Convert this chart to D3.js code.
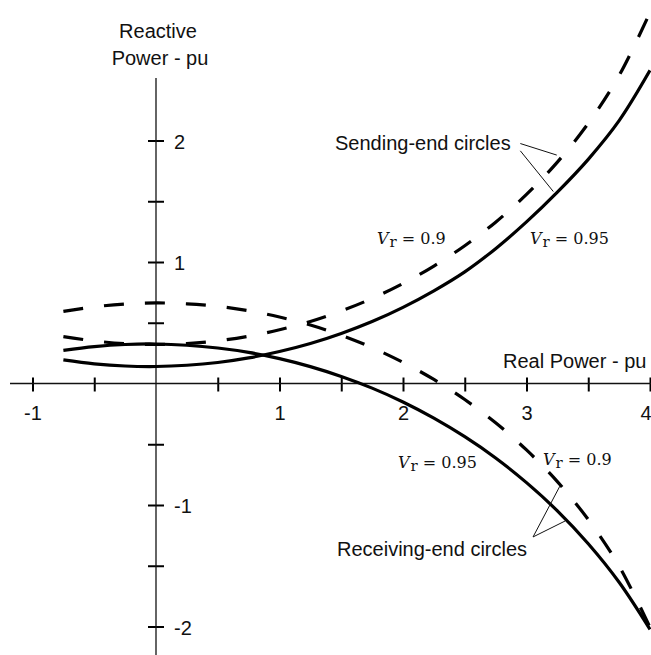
<!DOCTYPE html>
<html>
<head>
<meta charset="utf-8">
<script src="https://cdn.jsdelivr.net/npm/d3@7"></script>
<style>
  html, body { margin: 0; padding: 0; background: #fff; }
  svg { display: block; }
  text { font-family: "Liberation Sans", Arial, Helvetica, sans-serif; fill: #111; }
  .vr { font-family: "DejaVu Serif", "Liberation Serif", serif; font-size: 16px; }
</style>
</head>
<body>
<div id="chart"></div>
<script>
// real power (pu) at which each curve was read
var realPower = [-0.75, -0.5, -0.25, 0, 0.25, 0.5, 0.75, 1, 1.25, 1.5, 1.75,
    2, 2.25, 2.5, 2.75, 3, 3.25, 3.5, 3.75, 4];

// reactive power (pu)
var sendingVr095 = [0.194, 0.162, 0.144, 0.140, 0.150, 0.173, 0.211, 0.263, 0.329, 0.412,
    0.510, 0.627, 0.763, 0.919, 1.11, 1.33, 1.575, 1.845, 2.163, 2.577];
var sendingVr090 = [0.386, 0.350, 0.328, 0.321, 0.329, 0.351, 0.389, 0.442, 0.511, 0.597,
    0.700, 0.823, 0.967, 1.134, 1.328, 1.556, 1.822, 2.141, 2.535, 3.054];
var receivingVr095 = [0.272, 0.303, 0.321, 0.325, 0.315, 0.292, 0.256, 0.205, 0.139, 0.058,
    -0.038, -0.152, -0.285, -0.438, -0.613, -0.816, -1.048, -1.319, -1.636, -2.023];
var receivingVr090 = [0.593, 0.631, 0.654, 0.663, 0.656, 0.635, 0.599, 0.547, 0.481, 0.397,
    0.295, 0.174, 0.033, -0.132, -0.323, -0.547, -0.808, -1.120, -1.503, -2.007];

var xTicks = [-1, -0.5, 0.5, 1, 1.5, 2, 2.5, 3, 3.5, 4];
var yTicks = [-2, -1.5, -1, -0.5, 0.5, 1, 1.5, 2];

var width = 651, height = 655;

var svg = d3.select("#chart").append("svg")
    .attr("width", width)
    .attr("height", height);

var x = d3.scaleLinear().domain([-1, 4]).range([32.5, 650]);
var y = d3.scaleLinear().domain([-2, 2]).range([626.5, 140.5]);

// x axis, ticks on both sides of the line
var xAxis = svg.append("g")
    .attr("transform", "translate(0," + y(0) + ")")
    .call(d3.axisBottom(x)
        .tickValues(xTicks)
        .tickSize(8)
        .tickPadding(14)
        .tickFormat(function (d) { return d % 1 === 0 ? d : ""; }));
xAxis.select(".domain").remove();
xAxis.selectAll(".tick line").attr("y1", -6).attr("stroke-width", 2);
xAxis.selectAll(".tick text").attr("font-size", 20).attr("font-family", null);
// last label sits on the right edge
xAxis.selectAll(".tick text")
    .filter(function (d) { return d === 4; })
    .attr("text-anchor", "end")
    .attr("dx", 1);
xAxis.append("line")
    .attr("x1", 10).attr("x2", width)
    .attr("stroke", "#111").attr("stroke-width", 1.3);

// y axis
var yAxis = svg.append("g")
    .attr("transform", "translate(" + x(0) + ",0)")
    .call(d3.axisRight(y)
        .tickValues(yTicks)
        .tickSize(8)
        .tickPadding(10)
        .tickFormat(function (d) { return d % 1 === 0 ? d : ""; }));
yAxis.select(".domain").remove();
yAxis.selectAll(".tick line").attr("x1", -8).attr("stroke-width", 2);
yAxis.selectAll(".tick text").attr("font-size", 20).attr("font-family", null).attr("dy", "0.38em");
yAxis.append("line")
    .attr("y1", 78).attr("y2", height)
    .attr("stroke", "#111").attr("stroke-width", 1.3);

// axis titles
var yTitle = svg.append("text")
    .attr("x", x(0) + 2)
    .attr("text-anchor", "middle")
    .attr("font-size", 20);
yTitle.append("tspan").attr("x", x(0) + 2).attr("y", 38).text("Reactive");
yTitle.append("tspan").attr("x", x(0) + 4).attr("y", 65).text("Power - pu");

svg.append("text")
    .attr("x", 503)
    .attr("y", 368)
    .attr("font-size", 20)
    .text("Real Power - pu");

// circles
var line = d3.line()
    .x(function (d) { return x(d[0]); })
    .y(function (d) { return y(d[1]); })
    .curve(d3.curveCatmullRom);

var curves = [
    { q: sendingVr095, dash: null },
    { q: receivingVr095, dash: null },
    { q: sendingVr090, dash: "20,21" },
    { q: receivingVr090, dash: "20,21" }
];

curves.forEach(function (c) {
    svg.append("path")
        .datum(realPower.map(function (p, i) { return [p, c.q[i]]; }))
        .attr("d", line)
        .attr("fill", "none")
        .attr("stroke", "#000")
        .attr("stroke-width", 3.2)
        .attr("stroke-dasharray", c.dash);
});

// leader lines for the notes
var leaders = [
    [[2.95, 1.975], [3.245, 1.88]],
    [[2.95, 1.915], [3.217, 1.58]],
    [[3.053, -1.263], [3.27, -0.845]],
    [[3.053, -1.263], [3.312, -1.132]]
];
leaders.forEach(function (l) {
    svg.append("line")
        .attr("x1", x(l[0][0])).attr("y1", y(l[0][1]))
        .attr("x2", x(l[1][0])).attr("y2", y(l[1][1]))
        .attr("stroke", "#111")
        .attr("stroke-width", 1);
});

svg.append("text").attr("x", 335).attr("y", 150).attr("font-size", 20)
    .text("Sending-end circles");
svg.append("text").attr("x", 337).attr("y", 556).attr("font-size", 20)
    .text("Receiving-end circles");

// V_r labels
function vrLabel(px, py, value) {
    var t = svg.append("text").attr("class", "vr").attr("x", px).attr("y", py);
    t.append("tspan").attr("font-style", "italic").text("V");
    t.append("tspan").attr("font-size", 15).attr("dy", 3).attr("dx", 1).text("r");
    t.append("tspan").attr("dy", -3).text(" = " + value);
}
vrLabel(377, 244, "0.9");
vrLabel(530, 244, "0.95");
vrLabel(398, 468, "0.95");
vrLabel(543, 465, "0.9");
</script>
</body>
</html>
